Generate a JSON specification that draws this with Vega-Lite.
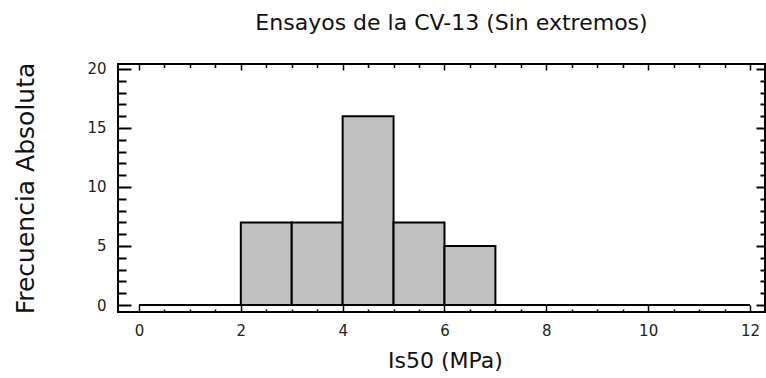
{
  "$schema": "https://vega.github.io/schema/vega-lite/v6.json",
  "autosize": {"type": "none"},
  "width": 647,
  "height": 248,
  "padding": {"left": 118, "top": 64, "right": 1, "bottom": 66},
  "background": "white",
  "title": {
    "text": "Ensayos de la CV-13 (Sin extremos)",
    "font": "DejaVu Sans",
    "fontSize": 22,
    "fontWeight": "normal",
    "color": "#111",
    "anchor": "middle",
    "frame": "group",
    "baseline": "alphabetic",
    "offset": 10,
    "dx": 10
  },
  "data": {
    "values": [
      {"lo": 0, "hi": 1, "count": 0},
      {"lo": 1, "hi": 2, "count": 0},
      {"lo": 2, "hi": 3, "count": 7},
      {"lo": 3, "hi": 4, "count": 7},
      {"lo": 4, "hi": 5, "count": 16},
      {"lo": 5, "hi": 6, "count": 7},
      {"lo": 6, "hi": 7, "count": 5},
      {"lo": 7, "hi": 8, "count": 0},
      {"lo": 8, "hi": 9, "count": 0},
      {"lo": 9, "hi": 10, "count": 0},
      {"lo": 10, "hi": 11, "count": 0},
      {"lo": 11, "hi": 12, "count": 0}
    ]
  },
  "layer": [
    {
      "mark": {"type": "rect", "fill": "#c0c0c0", "stroke": "#000", "strokeWidth": 2},
      "encoding": {
        "x": {"field": "lo", "type": "quantitative",
          "scale": {"domain": [-0.412, 12.295], "nice": false, "zero": false},
          "axis": {"orient": "bottom", "values": [0, 2, 4, 6, 8, 10, 12], "ticks": false, "labelPadding": 11,
            "labelFont": "DejaVu Sans", "labelFontSize": 15, "labelColor": "#222",
            "title": "Is50 (MPa)", "titleFont": "DejaVu Sans", "titleFontSize": 22, "titleFontWeight": "normal",
            "titleColor": "#111", "titleX": 327, "titleY": 48, "titleBaseline": "middle", "titleAlign": "center", "titleAnchor": null}},
        "x2": {"field": "hi"},
        "y": {"field": "count", "type": "quantitative",
          "scale": {"domain": [-0.593, 20.42], "nice": false, "zero": false},
          "axis": {"orient": "left", "values": [0, 5, 10, 15, 20], "ticks": false, "labelPadding": 12,
            "labelFont": "DejaVu Sans", "labelFontSize": 15, "labelColor": "#222",
            "title": "Frecuencia Absoluta", "titleFont": "DejaVu Sans", "titleFontSize": 25, "titleFontWeight": "normal",
            "titleColor": "#111", "titleX": -93, "titleY": 124, "titleAngle": -90, "titleBaseline": "middle", "titleAlign": "center", "titleAnchor": null}},
        "y2": {"datum": 0}
      }
    },
    {
      "mark": {"type": "point", "opacity": 0},
      "encoding": {
        "x": {"field": "lo", "type": "quantitative",
          "scale": {"domain": [-0.412, 12.295], "nice": false, "zero": false},
          "axis": {"orient": "bottom", "values": [0, 2, 4, 6, 8, 10, 12], "labels": false, "tickSize": -7, "tickWidth": 1.5, "title": null}},
        "y": {"field": "count", "type": "quantitative",
          "scale": {"domain": [-0.593, 20.42], "nice": false, "zero": false},
          "axis": {"orient": "left", "values": [0, 5, 10, 15, 20], "labels": false, "tickSize": -13, "tickWidth": 2, "title": null}}
      }
    },
    {
      "mark": {"type": "point", "opacity": 0},
      "encoding": {
        "x": {"field": "lo", "type": "quantitative",
          "scale": {"domain": [-0.412, 12.295], "nice": false, "zero": false},
          "axis": {"orient": "bottom", "values": [0.5, 1, 1.5, 2.5, 3, 3.5, 4.5, 5, 5.5, 6.5, 7, 7.5, 8.5, 9, 9.5, 10.5, 11, 11.5], "labels": false, "tickSize": -3, "tickWidth": 1.5, "title": null}},
        "y": {"field": "count", "type": "quantitative",
          "scale": {"domain": [-0.593, 20.42], "nice": false, "zero": false},
          "axis": {"orient": "left", "values": [1, 2, 3, 4, 6, 7, 8, 9, 11, 12, 13, 14, 16, 17, 18, 19], "labels": false, "tickSize": -8, "tickWidth": 2, "title": null}}
      }
    },
    {
      "mark": {"type": "point", "opacity": 0},
      "encoding": {
        "x": {"field": "lo", "type": "quantitative",
          "scale": {"domain": [-0.412, 12.295], "nice": false, "zero": false},
          "axis": {"orient": "top", "values": [0, 2, 4, 6, 8, 10, 12], "labels": false, "tickSize": -6, "tickWidth": 1.5, "title": null}},
        "y": {"field": "count", "type": "quantitative",
          "scale": {"domain": [-0.593, 20.42], "nice": false, "zero": false},
          "axis": {"orient": "right", "values": [0, 5, 10, 15, 20], "labels": false, "tickSize": -9, "tickWidth": 2, "title": null}}
      }
    },
    {
      "mark": {"type": "point", "opacity": 0},
      "encoding": {
        "x": {"field": "lo", "type": "quantitative",
          "scale": {"domain": [-0.412, 12.295], "nice": false, "zero": false},
          "axis": {"orient": "top", "values": [0.5, 1, 1.5, 2.5, 3, 3.5, 4.5, 5, 5.5, 6.5, 7, 7.5, 8.5, 9, 9.5, 10.5, 11, 11.5], "labels": false, "tickSize": -3.5, "tickWidth": 1.5, "title": null}},
        "y": {"field": "count", "type": "quantitative",
          "scale": {"domain": [-0.593, 20.42], "nice": false, "zero": false},
          "axis": {"orient": "right", "values": [1, 2, 3, 4, 6, 7, 8, 9, 11, 12, 13, 14, 16, 17, 18, 19], "labels": false, "tickSize": -5, "tickWidth": 2, "title": null}}
      }
    }
  ],
  "resolve": {"axis": {"x": "independent", "y": "independent"}},
  "config": {
    "view": {"stroke": "#000", "strokeWidth": 2},
    "axis": {
      "domain": false,
      "grid": false,
      "tickColor": "#000",
      "labelFont": "DejaVu Sans",
      "labelColor": "#222",
      "zindex": 1
    }
  }
}
